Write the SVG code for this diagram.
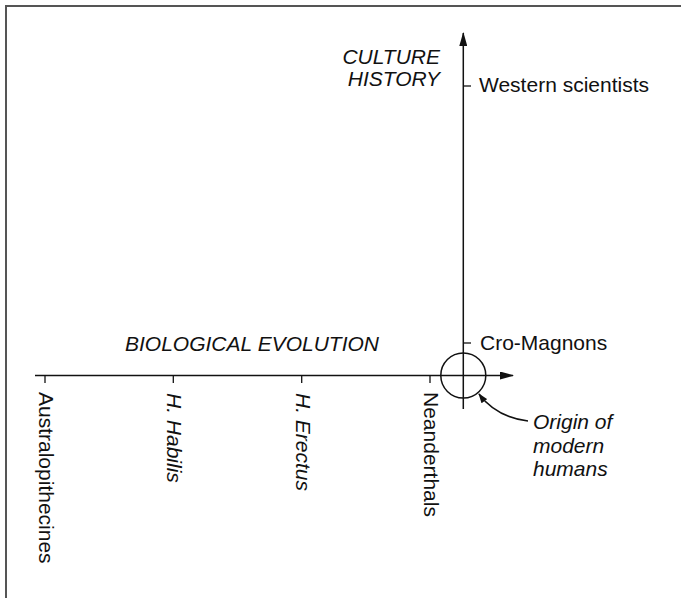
<svg xmlns="http://www.w3.org/2000/svg" width="681" height="598" viewBox="0 0 681 598">
  <style>
    text { font-family: "Liberation Sans", Arial, Helvetica, sans-serif; font-size: 21px; fill: #111; }
    .it { font-style: italic; }
    .ax { stroke: #111; stroke-width: 1.5; fill: none; }
    .tick { stroke: #111; stroke-width: 1.3; }
  </style>
  <defs>
    <marker id="arr" markerWidth="14" markerHeight="8" refX="13" refY="4" orient="auto" markerUnits="userSpaceOnUse">
      <path d="M0,0 L14,4 L0,8 Z" fill="#111"/>
    </marker>
    <marker id="arrs" markerWidth="10" markerHeight="7" refX="9" refY="3.5" orient="auto" markerUnits="userSpaceOnUse">
      <path d="M0,0 L10,3.5 L0,7 Z" fill="#111"/>
    </marker>
  </defs>
  <rect width="681" height="598" fill="#fff"/>
  <g id="frame">
    <path d="M6,598 L6,6 L681,6" fill="none" stroke="#555" stroke-width="2"/>
  </g>
  <g id="connectors">
    <line id="x-axis" class="ax" x1="35" y1="375.5" x2="513" y2="375.5" marker-end="url(#arr)"/>
    <line id="y-axis" class="ax" x1="463.3" y1="409" x2="463.3" y2="33" marker-end="url(#arr)"/>
    <path id="origin-pointer" class="ax" d="M528,421 Q496,417 479,394" marker-end="url(#arrs)"/>
  </g>
  <g id="origin">
    <circle cx="463.3" cy="375.5" r="22.5" class="ax"/>
  </g>
  <g id="culture-history">
    <text class="it" x="440" y="64" text-anchor="end">CULTURE</text>
    <text class="it" x="440" y="86" text-anchor="end">HISTORY</text>
  </g>
  <g id="western-scientists">
    <line class="tick" x1="463.3" y1="86" x2="471" y2="86"/>
    <text x="479" y="92">Western scientists</text>
  </g>
  <g id="cro-magnons">
    <line class="tick" x1="463.3" y1="343" x2="471" y2="343"/>
    <text x="480" y="350">Cro-Magnons</text>
  </g>
  <g id="biological-evolution">
    <text class="it" x="125" y="351">BIOLOGICAL EVOLUTION</text>
  </g>
  <g id="australopithecines">
    <line class="tick" x1="45" y1="375.5" x2="45" y2="383"/>
    <text transform="translate(39,392) rotate(90)">Australopithecines</text>
  </g>
  <g id="h-habilis">
    <line class="tick" x1="173.3" y1="375.5" x2="173.3" y2="383"/>
    <text class="it" transform="translate(167,393) rotate(90)">H. Habilis</text>
  </g>
  <g id="h-erectus">
    <line class="tick" x1="301.7" y1="375.5" x2="301.7" y2="383"/>
    <text class="it" transform="translate(296,393) rotate(90)">H. Erectus</text>
  </g>
  <g id="neanderthals">
    <line class="tick" x1="430" y1="375.5" x2="430" y2="383"/>
    <text transform="translate(424,392) rotate(90)">Neanderthals</text>
  </g>
  <g id="origin-label">
    <text class="it" x="533" y="429">Origin of</text>
    <text class="it" x="533" y="452.5">modern</text>
    <text class="it" x="533" y="476">humans</text>
  </g>
</svg>
